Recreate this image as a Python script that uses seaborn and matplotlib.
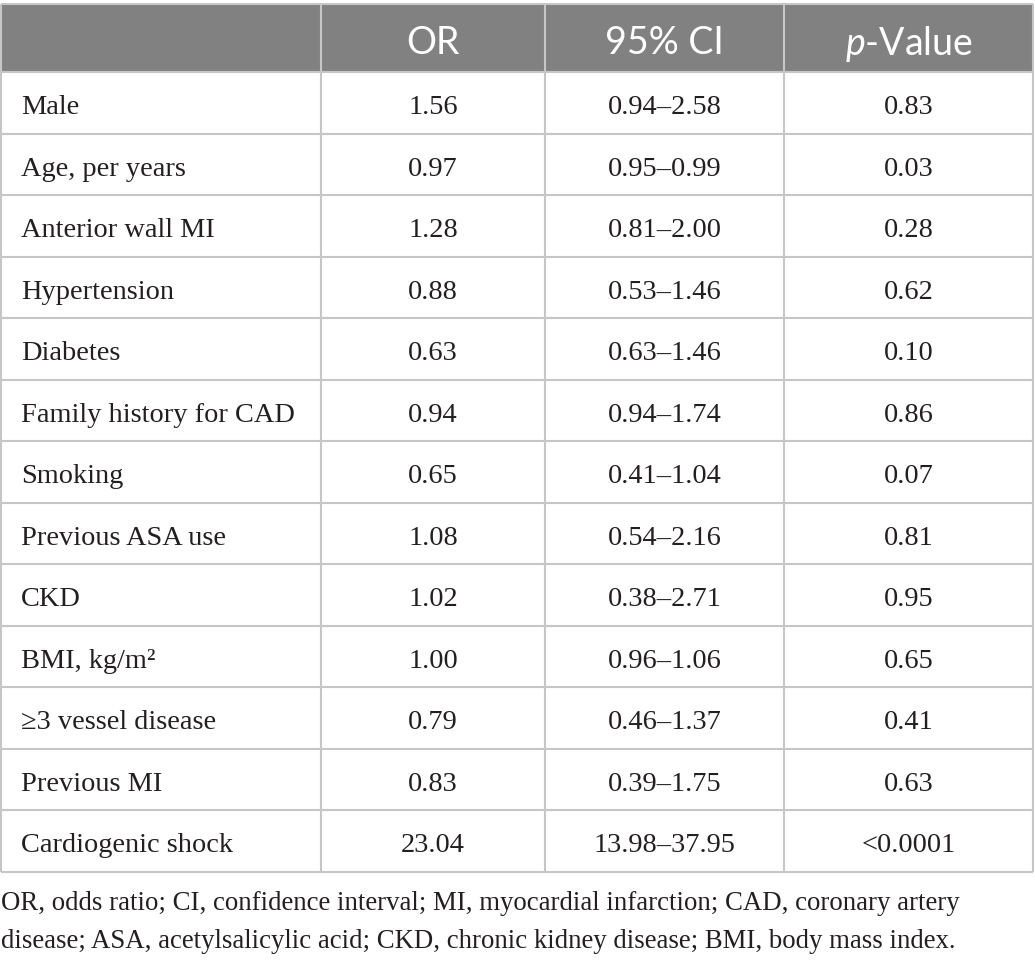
import matplotlib
matplotlib.use("Agg")
import matplotlib.pyplot as plt
import seaborn as sns

variables = ["Male", "Age, per years", "Anterior wall MI", "Hypertension", "Diabetes",
             "Family history for CAD", "Smoking", "Previous ASA use", "CKD",
             "BMI, kg/m\u00b2", "\u22653 vessel disease", "Previous MI", "Cardiogenic shock"]
odds_ratio = ["1.56", "0.97", "1.28", "0.88", "0.63", "0.94", "0.65", "1.08", "1.02",
              "1.00", "0.79", "0.83", "23.04"]
ci_95 = ["0.94\u20132.58", "0.95\u20130.99", "0.81\u20132.00", "0.53\u20131.46", "0.63\u20131.46",
         "0.94\u20131.74", "0.41\u20131.04", "0.54\u20132.16", "0.38\u20132.71", "0.96\u20131.06",
         "0.46\u20131.37", "0.39\u20131.75", "13.98\u201337.95"]
p_value = ["0.83", "0.03", "0.28", "0.62", "0.10", "0.86", "0.07", "0.81", "0.95",
           "0.65", "0.41", "0.63", "<0.0001"]
header = ["", "OR", "95% CI", "$\\it{p}$-Value"]
footnote = ["OR, odds ratio; CI, confidence interval; MI, myocardial infarction; CAD, coronary artery",
            "disease; ASA, acetylsalicylic acid; CKD, chronic kidney disease; BMI, body mass index."]

sns.set_theme(style="white")
plt.rcParams["mathtext.fontset"] = "custom"
plt.rcParams["mathtext.it"] = "Lato:italic"
plt.rcParams["mathtext.rm"] = "Lato"

col_edges = [1, 321, 545, 784, 1033]
top, head_bot, row_h = 4, 72, 61.5
grid_col = "#c6c6c6"
head_col = "#808180"
text_col = "#231f20"
serif = "Liberation Serif"
sans = "Lato"
fs = 20.4

fig = plt.figure(figsize=(10.35, 9.6), dpi=100)
ax = fig.add_axes([0, 0, 1, 1])
ax.set_xlim(0, 1035)
ax.set_ylim(960, 0)
ax.axis("off")

n = len(variables)
bottom = head_bot + n * row_h

# header band
ax.add_patch(plt.Rectangle((col_edges[0], top), col_edges[-1] - col_edges[0], head_bot - top,
                           facecolor=head_col, edgecolor="none"))
for j, h in enumerate(header):
    if h:
        xc = (col_edges[j] + col_edges[j + 1]) / 2
        ax.text(xc, (top + head_bot) / 2 + 2, h, ha="center", va="center_baseline", color="white",
                fontsize=27, family=sans)

# grid
ax.hlines(top, col_edges[0], col_edges[-1], color=grid_col, lw=1.5)
for i in range(n + 1):
    ax.hlines(head_bot + i * row_h, col_edges[0], col_edges[-1], color=grid_col, lw=1.5)
for x in col_edges:
    ax.vlines(x, top, bottom, color=grid_col, lw=1.5)

# body
for i in range(n):
    yc = head_bot + (i + 0.5) * row_h + 2
    ax.text(col_edges[0] + 20, yc, variables[i], ha="left", va="center_baseline", fontsize=fs,
            family=serif, color=text_col)
    for j, vals in enumerate([odds_ratio, ci_95, p_value], start=1):
        xc = (col_edges[j] + col_edges[j + 1]) / 2
        ax.text(xc, yc, vals[i], ha="center", va="center_baseline", fontsize=fs,
                family=serif, color=text_col)

for k, line in enumerate(footnote):
    ax.text(1, 901 + k * 37, line, ha="left", va="center_baseline", fontsize=19.3,
            family=serif, color=text_col)

fig.savefig("out.png", dpi=100)
